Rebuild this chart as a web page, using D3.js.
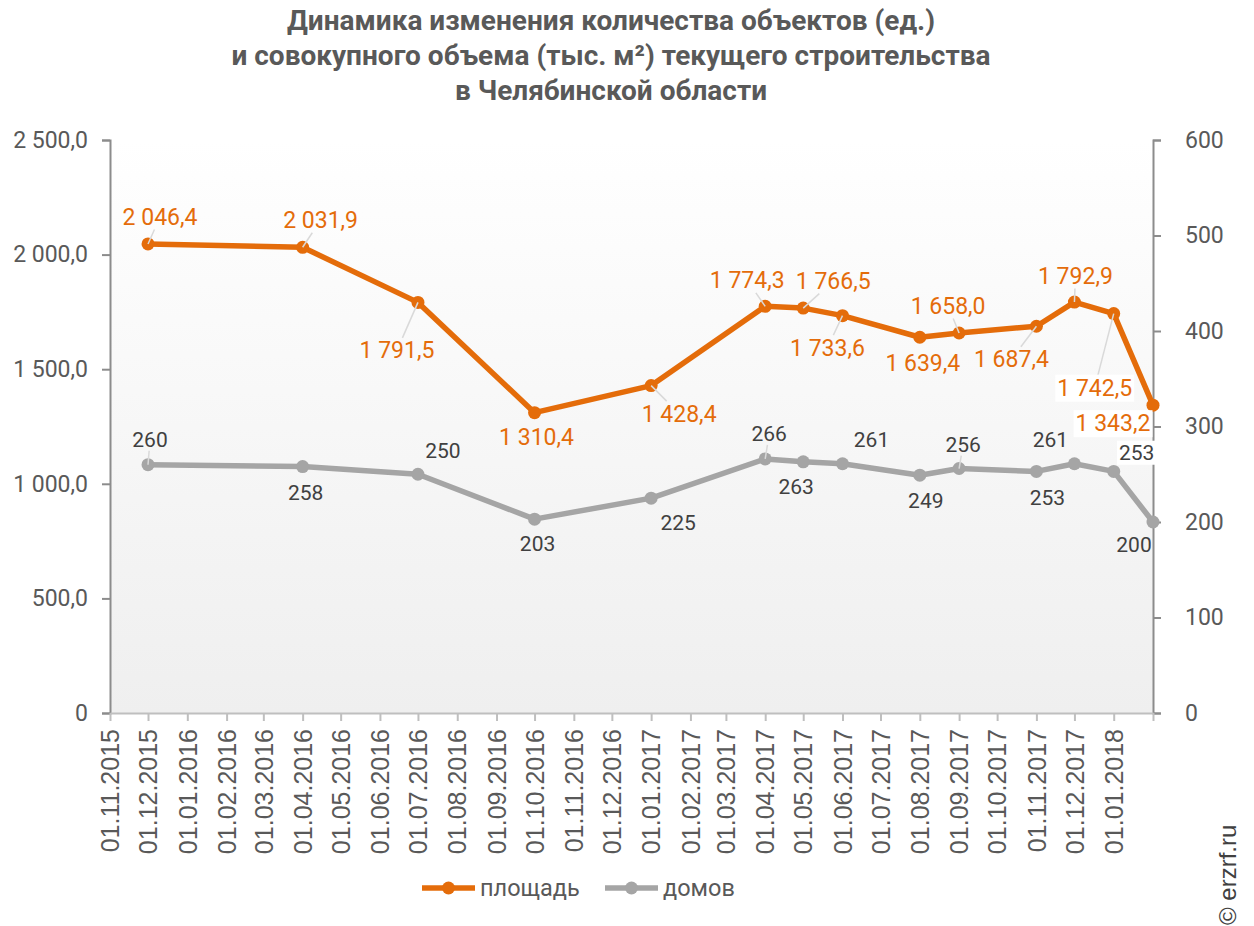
<!DOCTYPE html>
<html>
<head>
<meta charset="utf-8">
<script src="https://cdn.jsdelivr.net/npm/d3@7"></script>
<style>
  body { margin: 0; background: #fff; }
  svg { display: block; }
</style>
</head>
<body>
<div id="chart"></div>
<script>
// data
const dates = ["01.12.2015", "01.04.2016", "01.07.2016", "01.10.2016", "01.01.2017", "01.04.2017",
  "01.05.2017", "01.06.2017", "01.08.2017", "01.09.2017", "01.11.2017", "01.12.2017", "01.01.2018", "01.02.2018"];
const area = [2046.4, 2031.9, 1791.5, 1310.4, 1428.4, 1774.3, 1766.5, 1733.6, 1639.4, 1658.0, 1687.4, 1792.9, 1742.5, 1343.2];
const houses = [260, 258, 250, 203, 225, 266, 263, 261, 249, 256, 253, 261, 253, 200];
const seriesNames = ["площадь", "домов"];
const leftTicks = [0, 500, 1000, 1500, 2000, 2500];
const rightTicks = [0, 100, 200, 300, 400, 500, 600];
const titleLines = ["Динамика изменения количества объектов (ед.)",
  "и совокупного объема (тыс. м²) текущего строительства",
  "в Челябинской области"];

// label placement (offset from point), labels with leader lines, labels with white box
const areaLabelOff = [[12,-27],[18,-27],[-21,48],[2,24],[28,28],[-18,-26],[30,-27],[-15,32],[3,26],[-11,-27],[-25,33],[1,-26],[-19,74],[-40,18]];
const houseLabelOff = [[2,-25],[3,26],[25,-24],[3,25],[27,25],[4,-25],[-7,25],[29,-24],[6,25],[4,-24],[11,26],[-24,-24],[23,-19],[-19,23]];
const areaLeader = [0, 1, 2, 4, 5, 6, 7, 9, 10, 11, 12];
const houseLeader = [0, 5, 9];
const areaLabelBg = [12, 13];
const houseLabelBg = [12];

const W = 1254, H = 926;
const plot = { left: 110, right: 1153, top: 140, bottom: 713 };
const orange = "#e46c0a", grey = "#a5a5a5", textCol = "#595959";

const parse = d3.timeParse("%d.%m.%Y");
const fmtTick = d3.timeFormat("%d.%m.%Y");
const ru = d3.formatLocale({ decimal: ",", thousands: "\u00a0", grouping: [3], currency: ["", ""] });
const fmt1 = ru.format(",.1f");

const svg = d3.select("#chart").append("svg")
  .attr("width", W).attr("height", H)
  .style("font-family", "Roboto, sans-serif");

const x = d3.scaleTime()
  .domain([parse("01.11.2015"), parse("01.02.2018")])
  .range([plot.left, plot.right]);
const yL = d3.scaleLinear().domain([0, 2500]).range([plot.bottom, plot.top]);
const yR = d3.scaleLinear().domain([0, 600]).range([plot.bottom, plot.top]);

// background gradient
const grad = svg.append("defs").append("linearGradient")
  .attr("id", "bg").attr("x1", 0).attr("y1", 0).attr("x2", 0).attr("y2", 1);
grad.append("stop").attr("offset", "0%").attr("stop-color", "#ffffff");
grad.append("stop").attr("offset", "100%").attr("stop-color", "#efefef");
svg.append("rect")
  .attr("x", plot.left).attr("y", plot.top)
  .attr("width", plot.right - plot.left).attr("height", plot.bottom - plot.top)
  .attr("fill", "url(#bg)");

// title
svg.append("text")
  .attr("x", 611).attr("text-anchor", "middle")
  .attr("fill", textCol)
  .style("font-family", "Roboto, sans-serif")
  .style("font-weight", "bold").style("font-size", "28px")
  .selectAll("tspan").data(titleLines).join("tspan")
  .attr("x", 611).attr("y", (d, i) => 30 + i * 35).text(d => d);

// axes
const axL = svg.append("g").attr("transform", `translate(${plot.left},0)`)
  .call(d3.axisLeft(yL).tickValues(leftTicks).tickSize(8).tickPadding(14)
    .tickFormat(d => d === 0 ? "0" : fmt1(d)));
const axR = svg.append("g").attr("transform", `translate(${plot.right},0)`)
  .call(d3.axisRight(yR).tickValues(rightTicks).tickSize(8).tickPadding(24));
[axL, axR].forEach(g => {
  g.select(".domain").attr("stroke", "#8c8c8c").attr("stroke-width", 2);
  g.selectAll(".tick line").attr("stroke", "#8c8c8c").attr("stroke-width", 2);
  g.selectAll("text").attr("fill", textCol).style("font-size", "23px").style("font-family", "Roboto, sans-serif");
});

const months = d3.timeMonth.range(parse("01.11.2015"), parse("01.02.2018"));
const axB = svg.append("g").attr("transform", `translate(0,${plot.bottom})`)
  .call(d3.axisBottom(x).tickValues(months.concat([parse("01.02.2018")])).tickSize(8).tickSizeOuter(0)
    .tickFormat(d => +d === +parse("01.02.2018") ? "" : fmtTick(d)));
axB.select(".domain").attr("stroke", "#bfbfbf").attr("stroke-width", 2);
axB.selectAll(".tick line").attr("stroke", "#bfbfbf").attr("stroke-width", 2);
axB.selectAll("text")
  .attr("fill", textCol)
  .style("font-family", "'Liberation Sans', Arial, sans-serif").style("font-size", "25px")
  .attr("text-anchor", "end")
  .attr("transform", "rotate(-90)")
  .attr("x", -16).attr("y", 0).attr("dy", "0.35em");

// lines
const areaData = dates.map((d, i) => ({ date: parse(d), v: area[i] }));
const houseData = dates.map((d, i) => ({ date: parse(d), v: houses[i] }));

function drawSeries(data, y, color) {
  svg.append("path").datum(data)
    .attr("fill", "none").attr("stroke", color).attr("stroke-width", 5.5)
    .attr("stroke-linejoin", "round")
    .attr("d", d3.line().x(d => x(d.date)).y(d => y(d.v)));
  svg.append("g").selectAll("circle").data(data).join("circle")
    .attr("cx", d => x(d.date)).attr("cy", d => y(d.v)).attr("r", 6.5)
    .attr("fill", color);
}
drawSeries(houseData, yR, grey);
drawSeries(areaData, yL, orange);

// data labels with leader lines
function drawLabels(data, y, offs, leaders, bgIdx, color, size, format) {
  const g = svg.append("g");
  data.forEach((d, i) => {
    const px = x(d.date), py = y(d.v);
    const lx = px + offs[i][0], ly = py + offs[i][1];
    const t = g.append("text")
      .attr("x", lx).attr("y", ly).attr("dy", "0.35em")
      .attr("text-anchor", "middle")
      .attr("fill", color).style("font-size", size + "px")
      .text(format(d.v));
    const bb = t.node().getBBox();
    if (leaders.includes(i)) {
      // from the point toward the label centre, stopping at the label box
      const dx = lx - px, dy = ly - py;
      const hw = bb.width / 2 + 2, hh = bb.height / 2 - 1;
      const s = Math.min(Math.abs(dx) > 0 ? hw / Math.abs(dx) : Infinity, Math.abs(dy) > 0 ? hh / Math.abs(dy) : Infinity);
      const k = Math.max(0, 1 - s);
      g.insert("line", "text")
        .attr("x1", px).attr("y1", py).attr("x2", px + dx * k).attr("y2", py + dy * k)
        .attr("stroke", "#d9d9d9").attr("stroke-width", 1.5);
    }
    if (bgIdx.includes(i)) {
      g.insert("rect", () => t.node())
        .attr("x", bb.x - 2).attr("y", bb.y).attr("width", bb.width + 4).attr("height", bb.height)
        .attr("fill", "#fff");
    }
  });
}
drawLabels(houseData, yR, houseLabelOff, houseLeader, houseLabelBg, "#404040", 21, d => d3.format("d")(d));
drawLabels(areaData, yL, areaLabelOff, areaLeader, areaLabelBg, orange, 23, fmt1);

// legend
const legend = svg.append("g").attr("transform", "translate(0,888)");
[[422, orange], [605, grey]].forEach(([lx, c], i) => {
  legend.append("line").attr("x1", lx).attr("x2", lx + 53).attr("y1", 0).attr("y2", 0)
    .attr("stroke", c).attr("stroke-width", 5.5);
  legend.append("circle").attr("cx", lx + 26.5).attr("cy", 0).attr("r", 6.5).attr("fill", c);
  legend.append("text").attr("x", lx + 58).attr("y", 0).attr("dy", "0.35em")
    .attr("fill", textCol).style("font-size", "23.5px").text(seriesNames[i]);
});

// copyright
svg.append("text")
  .attr("transform", "translate(1236,925) rotate(-90)")
  .attr("fill", "#404040").style("font-size", "24px")
  .style("font-family", "'Liberation Sans', Arial, sans-serif")
  .text("© erzrf.ru");
</script>
</body>
</html>
